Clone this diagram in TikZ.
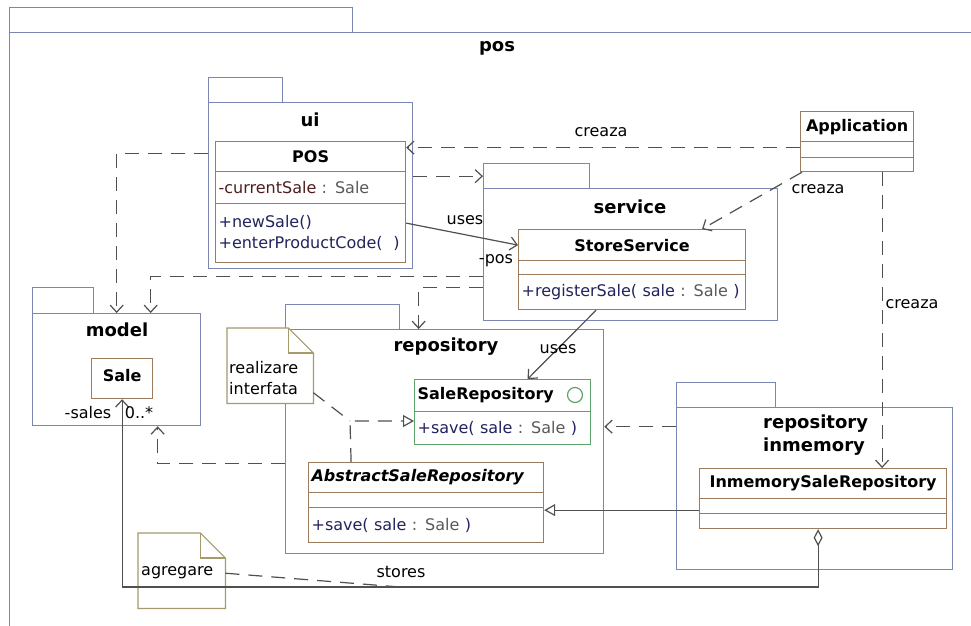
\documentclass[tikz,border=0pt]{standalone}
\usepackage{fontspec}
\setmainfont{DejaVu Sans}
\usetikzlibrary{positioning,
        arrows.meta}
\usepackage{xcolor}
\definecolor{pkgline}{HTML}{7C86B4}
\definecolor{clsline}{HTML}{9C7B5E}
\definecolor{ifcline}{HTML}{5FA36C}
\definecolor{noteline}{HTML}{A49A6C}
\definecolor{opsblue}{HTML}{23235E}
\definecolor{attrred}{HTML}{4E1E1E}
\definecolor{typegray}{HTML}{5A5A5A}
\definecolor{linkgray}{HTML}{505050}
\newcommand{\umlfont}{\fontsize{16}{21}\selectfont}
\newcommand{\pkgfont}{\fontsize{18}{23}\selectfont\bfseries}

\begin{document}
\begin{tikzpicture}[x=1pt,y=-1pt,
        every node/.style={font=\umlfont, inner sep=0pt},
        pkg/.style={draw=pkgline, line width=1.3pt, fill=white, anchor=north west},
        pkgname/.style={font=\pkgfont},
        cls/.style={draw=clsline, line width=1.2pt, fill=white, anchor=north west},
        ifc/.style={draw=ifcline, line width=1.2pt, fill=white, anchor=north west},
        lcmp/.style={align=left, inner xsep=3pt},
        note/.style={draw=noteline, line width=1.2pt, fill=white},
        tipv/.tip={Straight Barb[length=7pt,width=13pt]},
        dep/.style={draw=linkgray, line width=1.2pt, dash pattern=on 14pt off 9pt, -tipv},
        use/.style={draw=linkgray, line width=1.2pt, -tipv},
        real/.style={draw=linkgray, line width=1.2pt, dash pattern=on 14pt off 9pt, -{Triangle[open,length=11pt,width=12pt]}},
        gen/.style={draw=linkgray, line width=1.2pt, -{Triangle[open,length=11pt,width=12pt]}},
        agg/.style={draw=linkgray, line width=1.2pt, {Diamond[open,length=17pt,width=9pt]}-tipv},
        notelink/.style={draw=linkgray, line width=1.2pt, dash pattern=on 14pt off 9pt}]
        \useasboundingbox (0,0) rectangle (971,625);
        \fill[white] (0,0) rectangle (971,625);

        % packages
        \node [pkg,minimum width=343,minimum height=25] (posTab) at (9,7) {};
        \node [pkg,minimum width=980,minimum height=620] (pos) at (9,32) {};
        \node [pkgname] (posName) at (497,48) {pos};

        \node [pkg,minimum width=74,minimum height=25] (uiTab) at (208,77) {};
        \node [pkg,minimum width=204,minimum height=166] (ui) at (208,102) {};
        \node [pkgname] (uiName) at (310,120) {ui};

        \node [pkg,minimum width=106,minimum height=25] (svcTab) at (483,163) {};
        \node [pkg,minimum width=294,minimum height=132] (svc) at (483,188) {};
        \node [pkgname] (svcName) at (630,207) {service};

        \node [pkg,minimum width=61,minimum height=26] (modelTab) at (32,287) {};
        \node [pkg,minimum width=168,minimum height=112] (model) at (32,313) {};
        \node [pkgname] (modelName) at (117,330) {model};

        \node [pkg,minimum width=114,minimum height=25] (repoTab) at (285,304) {};
        \node [pkg,minimum width=318,minimum height=224] (repo) at (285,329) {};
        \node [pkgname] (repoName) at (446,347) {repository};

        \node [pkg,minimum width=99,minimum height=25] (imTab) at (676,382) {};
        \node [pkg,minimum width=276,minimum height=162] (im) at (676,407) {};
        \node [pkgname,anchor=west,align=left] (imName) at (763,435) {repository\\inmemory};

        % classes
        \node [cls,minimum width=190,minimum height=30] (posHead) at (215,141) {\bfseries POS};
        \node [cls,lcmp,minimum width=190,minimum height=32,text width=184,text=attrred] (posAttr) at (215,171) {-currentSale {\color{typegray}: Sale}};
        \node [cls,lcmp,minimum width=190,minimum height=59,text width=184,text=opsblue] (posOps) at (215,203) {+newSale()\\+enterProductCode(\ \ )};

        \node [cls,minimum width=227,minimum height=31] (ssHead) at (518,229) {\bfseries StoreService};
        \node [cls,minimum width=227,minimum height=14] (ssAttr) at (518,260) {};
        \node [cls,lcmp,minimum width=227,minimum height=35,text width=221,text=opsblue] (ssOps) at (518,274) {+registerSale( sale {\color{typegray}: Sale} )};

        \node [cls,minimum width=113,minimum height=30] (appHead) at (800,111) {\bfseries Application};
        \node [cls,minimum width=113,minimum height=16] (appAttr) at (800,141) {};
        \node [cls,minimum width=113,minimum height=14] (appOps) at (800,157) {};

        \node [cls,minimum width=61,minimum height=40] (sale) at (91,358) {\raisebox{6pt}{\bfseries Sale}};

        \node [ifc,lcmp,minimum width=176,minimum height=32,text width=170] (srHead) at (414,379) {\bfseries SaleRepository};
        \node [ifc,lcmp,minimum width=176,minimum height=33,text width=170,text=opsblue] (srOps) at (414,411) {+save( sale {\color{typegray}: Sale} )};
        \node [circle,draw=ifcline,line width=1.2pt,minimum size=15] (srIcon) at (575,395) {};

        \node [cls,lcmp,minimum width=235,minimum height=30,text width=229] (asrHead) at (308,462) {\bfseries\itshape AbstractSaleRepository};
        \node [cls,minimum width=235,minimum height=15] (asrAttr) at (308,492) {};
        \node [cls,lcmp,minimum width=235,minimum height=35,text width=229,text=opsblue] (asrOps) at (308,507) {+save( sale {\color{typegray}: Sale} )};

        \node [cls,minimum width=247,minimum height=30] (imHead) at (699,468) {\bfseries InmemorySaleRepository};
        \node [cls,minimum width=247,minimum height=15] (imAttr) at (699,498) {};
        \node [cls,minimum width=247,minimum height=15] (imOps) at (699,513) {};

        % notes
        \node [minimum width=86,minimum height=75,anchor=north west] (noteReal) at (227,328) {};
        \draw [note] (noteReal.north west) -- ([xshift=-25]noteReal.north east) -- ([yshift=-25]noteReal.north east) -- (noteReal.south east) -- (noteReal.south west) -- cycle;
        \draw [note,fill=none] ([xshift=-25]noteReal.north east) |- ([yshift=-25]noteReal.north east);
        \node [anchor=west,align=left] (noteRealText) at (229,378) {realizare\\interfata};

        \node [minimum width=87,minimum height=75,anchor=north west] (noteAgg) at (138,533) {};
        \draw [note] (noteAgg.north west) -- ([xshift=-25]noteAgg.north east) -- ([yshift=-25]noteAgg.north east) -- (noteAgg.south east) -- (noteAgg.south west) -- cycle;
        \draw [note,fill=none] ([xshift=-25]noteAgg.north east) |- ([yshift=-25]noteAgg.north east);
        \node [anchor=west] (noteAggText) at (141,573) {agregare};

        % dependencies
        \draw [dep] ([yshift=32]ui.west) -| (model.north);
        \draw [dep] (ui.east |- svcTab.west) -- (svcTab.west);
        \draw [dep] ([yshift=-22]svc.west) -| ([xshift=34]model.north);
        \draw [dep] ([yshift=-33]svc.west) -| ([xshift=-26]repo.north);
        \draw [dep] ([yshift=-22]repo.west) -| ([xshift=41]model.south);
        \coordinate (imOut) at ([yshift=62]im.west);
        \draw [dep] (imOut) -- (imOut -| repo.east);

        \coordinate (appOut) at ([yshift=2]appAttr.west);
        \draw [dep] (appOut) -- (appOut -| posHead.east);
        \draw [dep] ([xshift=2]appOps.south west) -- ([xshift=70]ssHead.north);
        \coordinate (appDown) at ([xshift=25]appOps.south);
        \draw [dep] (appDown) -- (appDown |- imHead.north);
        \node (creazaPos) at (601,132) {creaza};
        \node (creazaSvc) at (818,189) {creaza};
        \node (creazaIm) at (912,304) {creaza};

        % associations
        \draw [use] ([yshift=10]posOps.east) -- (ssHead.west);
        \node (usesPos) at (465,220) {uses};
        \node (rolePos) at (496,261) {-pos};
        \draw [use] ([xshift=-36]ssOps.south) -- ([xshift=25]srHead.north);
        \node (usesRepo) at (558,349) {uses};

        % realization and generalization
        \coordinate (realBend) at (350,421);
        \draw [real] ([xshift=-75]asrHead.north) -- (realBend) -- (realBend -| srOps.west);
        \draw [notelink] ([yshift=-27]noteReal.east) -- (realBend);
        \coordinate (imGen) at ([yshift=-4]imAttr.west);
        \draw [gen] (imGen) -- (imGen -| asrHead.east);

        % aggregation
        \coordinate (aggTurn) at (0,587);
        \draw [agg] ([xshift=-5]imOps.south) |- (sale.south |- aggTurn) -- (sale.south);
        \node (roleSales) at (88,413) {-sales};
        \node (multSales) at (139,413) {0..*};
        \node (storesLbl) at (401,572) {stores};
        \coordinate (storesPt) at (400,587);
        \draw [notelink] ([yshift=-2.5]noteAgg.east) -- (storesPt);
\end{tikzpicture}
\end{document}
